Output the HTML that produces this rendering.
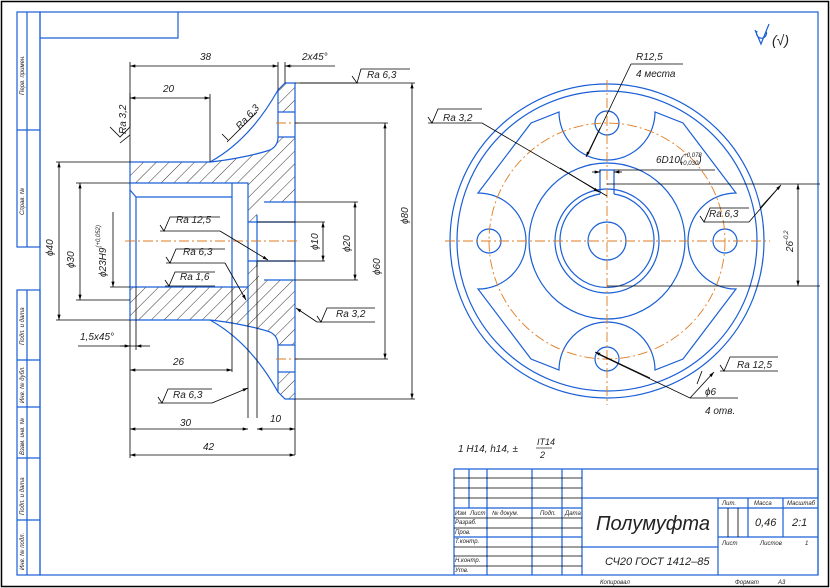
<!DOCTYPE html>
<html><head><meta charset="utf-8"><style>
html,body{margin:0;padding:0;background:#fff}
svg{display:block}
text{font-family:"Liberation Sans","Noto Sans CJK SC",sans-serif;font-style:italic;fill:#222}
.b{stroke:#1a5fd6;fill:none;stroke-width:1.2}
.k{stroke:#000;fill:none;stroke-width:0.8}
.o{stroke:#e07b20;fill:none;stroke-width:0.9;stroke-dasharray:10 3 2 3}
</style></head><body>
<svg width="830" height="588" viewBox="0 0 830 588" xmlns="http://www.w3.org/2000/svg">
<defs>
<pattern id="h" width="9" height="9" patternUnits="userSpaceOnUse" patternTransform="rotate(45)">
<line x1="0" y1="0" x2="0" y2="9" stroke="#000" stroke-width="0.8"/>
</pattern>
<marker id="a" viewBox="0 0 10 6" refX="10" refY="3" markerWidth="8" markerHeight="4" orient="auto-start-reverse"><path d="M0,0L10,3L0,6z" fill="#000"/></marker>
</defs>
<rect x="1.5" y="1.5" width="827" height="585" fill="none" stroke="#000" stroke-width="1.5"/>
<rect x="40" y="12" width="778" height="563" class="b"/>
<path class="b" d="M40,38H178V12"/>
<g class="b">
<rect x="17" y="12" width="23" height="235"/><line x1="27" y1="12" x2="27" y2="247"/><line x1="17" y1="130" x2="40" y2="130"/>
<rect x="17" y="290" width="23" height="285"/><line x1="27" y1="290" x2="27" y2="575"/>
<line x1="17" y1="360" x2="40" y2="360"/><line x1="17" y1="407" x2="40" y2="407"/><line x1="17" y1="458" x2="40" y2="458"/><line x1="17" y1="520" x2="40" y2="520"/>
</g>
<g font-size="6">
<text transform="translate(24,95) rotate(-90)">Перв. примен.</text>
<text transform="translate(24,215) rotate(-90)">Справ. №</text>
<text transform="translate(24,345) rotate(-90)">Подп. и дата</text>
<text transform="translate(24,403) rotate(-90)">Инв. № дубл.</text>
<text transform="translate(24,455) rotate(-90)">Взам. инв. №</text>
<text transform="translate(24,515) rotate(-90)">Подп. и дата</text>
<text transform="translate(24,570) rotate(-90)">Инв. № подл.</text>
</g>

<path fill="url(#h)" d="M130,162H210C230,160 255,155 270,150Q278,146 278,137H295V202H264Q257,205 257,215V222H248V183H130Z"/>
<path fill="url(#h)" d="M130,320H210C230,322 255,327 270,332Q278,336 278,345H295V280H264Q257,277 257,267V261H248V287H130Z"/>
<path fill="url(#h)" d="M285,83H295V112H278V90Z"/>
<path fill="url(#h)" d="M285,399H295V372H278V392Z"/>
<g class="b">
<path d="M130,162V320"/>
<path d="M130,162H210C230,160 255,155 270,150Q278,146 278,137V90L285,83H295V399H285L278,392V345Q278,336 270,332C255,327 230,322 210,320H130"/>
<path d="M210,162Q250,140 278,90M210,320Q250,342 278,392"/>
<path d="M130,183H248V320M232,183V287M136,197H232M130,287H248M136,197L130,190M136,197V287"/>
<path d="M257,222V261M257,215V267M248,222H295M248,261H295M264,202H295M264,280H295"/>
<path d="M278,112H295M278,137H295M278,345H295M278,372H295"/>
</g>
<line class="o" x1="125" y1="241" x2="300" y2="241"/>
<line class="o" x1="276" y1="123" x2="298" y2="123"/>
<line class="o" x1="276" y1="359" x2="298" y2="359"/>

<g class="k">
<line x1="130" y1="62" x2="130" y2="162"/>
<line x1="278" y1="62" x2="278" y2="90"/><line x1="285" y1="62" x2="285" y2="83"/>
<line x1="130" y1="66" x2="278" y2="66" marker-start="url(#a)" marker-end="url(#a)"/>
<line x1="285" y1="66" x2="335" y2="66"/><line x1="292" y1="66" x2="285" y2="66" marker-end="url(#a)"/>
<line x1="210" y1="94" x2="210" y2="162"/>
<line x1="130" y1="98" x2="210" y2="98" marker-start="url(#a)" marker-end="url(#a)"/>
<path d="M295,83H415M295,399H415M295,123H388M295,359H388M295,202H358M295,280H358M257,222H325M257,261H325"/>
<line x1="412" y1="83" x2="412" y2="399" marker-start="url(#a)" marker-end="url(#a)"/>
<line x1="385" y1="123" x2="385" y2="359" marker-start="url(#a)" marker-end="url(#a)"/>
<line x1="355" y1="202" x2="355" y2="280" marker-start="url(#a)" marker-end="url(#a)"/>
<line x1="323" y1="222" x2="323" y2="261" marker-start="url(#a)" marker-end="url(#a)"/>
<path d="M56,162H130M56,320H130M76,183H130M76,300H130M110,287H130"/>
<line x1="59" y1="162" x2="59" y2="320" marker-start="url(#a)" marker-end="url(#a)"/>
<line x1="80" y1="183" x2="80" y2="300" marker-start="url(#a)" marker-end="url(#a)"/>
<line x1="113" y1="212" x2="113" y2="287" marker-end="url(#a)"/>
<path d="M136,287V350M232,287V372M248,320V418M257,261V418M295,399V455M130,320V458"/>
<line x1="78" y1="346" x2="136" y2="346"/><line x1="120" y1="346" x2="130" y2="346" marker-end="url(#a)"/><line x1="150" y1="346" x2="136" y2="346" marker-end="url(#a)"/>
<line x1="130" y1="370" x2="232" y2="370" marker-start="url(#a)" marker-end="url(#a)"/>
<line x1="130" y1="429" x2="248" y2="429" marker-start="url(#a)" marker-end="url(#a)"/>
<line x1="257" y1="429" x2="295" y2="429" marker-start="url(#a)" marker-end="url(#a)"/>
<line x1="130" y1="455" x2="295" y2="455" marker-start="url(#a)" marker-end="url(#a)"/>
<!-- Ra leaders with check marks -->
<path d="M120,143l10,-8M110,127l10,10l10,-10V93"/>
<path d="M160,231H220"/><line x1="220" y1="231" x2="268" y2="260" marker-end="url(#a)"/>
<path d="M166,263H225"/><line x1="225" y1="263" x2="246" y2="300" marker-end="url(#a)"/>
<path d="M165,286H215"/>
<path d="M158,403H212"/><line x1="212" y1="403" x2="248" y2="388" marker-end="url(#a)"/>
<path d="M317,322H375"/><line x1="317" y1="322" x2="296" y2="308" marker-end="url(#a)"/>
<path d="M300,83H357"/>
<path d="M227,142l30,-30M228,140l-6,-6"/>
<path d="M160,225l4,6l6,-14H220"/><path d="M166,257l4,6l6,-14H225"/><path d="M165,280l4,6l6,-14H215"/>
<path d="M158,397l4,6l6,-14H212"/><path d="M317,316l4,6l6,-14H375"/>
<path d="M352,76l5,7l4,-14H410"/>
</g>
<g font-size="10">
<text x="200" y="60">38</text><text x="163" y="92">20</text><text x="302" y="60">2x45°</text>
<text x="367" y="78">Ra 6,3</text>
<text transform="translate(126,134) rotate(-90)">Ra 3,2</text>
<text transform="translate(240,130) rotate(-48)">Ra 6,3</text>
<text x="176" y="223">Ra 12,5</text><text x="183" y="255">Ra 6,3</text><text x="180" y="280">Ra 1,6</text>
<text x="336" y="317">Ra 3,2</text><text x="173" y="398">Ra 6,3</text>
<text x="80" y="340">1,5x45°</text>
<text x="173" y="365">26</text><text x="180" y="426">30</text><text x="270" y="422">10</text><text x="203" y="450">42</text>
<text transform="translate(53,256) rotate(-90)">ϕ40</text>
<text transform="translate(74,268) rotate(-90)">ϕ30</text>
<text transform="translate(106,277) rotate(-90)">ϕ23H9<tspan font-size="6" dy="-6">(+0,052)</tspan></text>
<text transform="translate(318,250) rotate(-90)">ϕ10</text>
<text transform="translate(350,252) rotate(-90)">ϕ20</text>
<text transform="translate(380,275) rotate(-90)">ϕ60</text>
<text transform="translate(408,224) rotate(-90)">ϕ80</text>
</g>

<g class="b">
<circle cx="607" cy="241" r="157"/><circle cx="607" cy="241" r="150"/>
<circle cx="607" cy="241" r="78"/><circle cx="607" cy="241" r="52"/><circle cx="607" cy="241" r="19"/>
<path d="M600,194A47,47 0 1,0 614,194"/>
<path d="M600,194V170H614V194"/>
<path d="M559,112A48,48 0 0,0 655,112L683,123L736,193A48,48 0 0,0 736,289L683,359L655,370A48,48 0 0,0 559,370L531,359L478,289A48,48 0 0,0 478,193L531,123Z"/>
<circle cx="607" cy="123" r="12"/><circle cx="607" cy="359" r="12"/><circle cx="489" cy="241" r="12"/><circle cx="725" cy="241" r="12"/>
</g>
<circle cx="607" cy="241" r="118" class="o"/>
<line class="o" x1="445" y1="241" x2="770" y2="241"/>
<line class="o" x1="607" y1="80" x2="607" y2="405"/>
<g class="k">
<path d="M631,64H683M631,64L588,154"/><line x1="600" y1="128" x2="586" y2="157" marker-end="url(#a)"/>
<path d="M428,123H482L607,196"/><line x1="560" y1="168" x2="599" y2="192" marker-end="url(#a)"/>
<path d="M428,117l4,6l6,-14H482"/>
<path d="M600,170V172M614,170H715M607,184H820M607,286H820"/>
<line x1="592" y1="172" x2="600" y2="172" marker-end="url(#a)"/><line x1="622" y1="172" x2="614" y2="172" marker-end="url(#a)"/>
<line x1="798" y1="184" x2="798" y2="286" marker-start="url(#a)" marker-end="url(#a)"/>
<path d="M700,216l4,6l6,-14H749M704,222H749L780,186"/><line x1="760" y1="208" x2="781" y2="185" marker-end="url(#a)"/>
<path d="M720,371H778M720,365l4,6l6,-14H778M697,384l5,-13M600,355L690,398H738"/>
<line x1="650" y1="378" x2="595" y2="352" marker-end="url(#a)"/>
<line x1="714" y1="372" x2="690" y2="398" marker-start="url(#a)"/>
</g>
<g font-size="10">
<text x="636" y="60">R12,5</text><text x="636" y="77">4 места</text>
<text x="443" y="121">Ra 3,2</text>
<text x="656" y="163">6D10(<tspan font-size="6" dy="-6">+0,078</tspan><tspan font-size="6" dx="-22" dy="8">+0,030</tspan><tspan dy="-2">)</tspan></text>
<text x="709" y="217">Ra 6,3</text>
<text transform="translate(793,252) rotate(-90)">26<tspan font-size="6" dy="-5">-0,2</tspan></text>
<text x="737" y="368">Ra 12,5</text>
<text x="705" y="395">ϕ6</text><text x="705" y="414">4 отв.</text>
</g>
<g class="b" stroke-width="1"><path d="M755,30l6,14l8,-20M757,31a5,5 0 1,0 9,0"/></g>
<text x="772" y="45" font-size="14">(√)</text>

<text x="458" y="452" font-size="10">1 H14, h14, ±</text>
<text x="537" y="445" font-size="9">IT14</text><line x1="536" y1="448" x2="552" y2="448" stroke="#000" stroke-width="0.6"/>
<text x="540" y="458" font-size="9">2</text>

<g class="b">
<path d="M454,469H818V575M454,469V575M469,469V508M487,469V575M532,469V575M562,469V575M582,469V575"/>
<path d="M582,498H818M582,547H718M718,498V575M718,508H818M718,537H818M748,498V537M783,498V537"/>
<path d="M454,508H582M454,537H582"/>
</g>
<g class="k">
<path d="M454,478H582M454,488H582M454,498H582M454,518H582M454,528H582M454,547H582M454,556H582M454,566H582"/>
<path d="M728,508V537M738,508V537"/>
</g>
<g font-size="6">
<text x="455" y="515">Изм</text><text x="470" y="515">Лист</text><text x="492" y="515">№ докум.</text><text x="540" y="515">Подп.</text><text x="565" y="515">Дата</text>
<text x="455" y="524">Разраб.</text><text x="455" y="534">Пров.</text><text x="455" y="543">Т.контр.</text>
<text x="455" y="562">Н.контр.</text><text x="455" y="572">Утв.</text>
<text x="722" y="505">Лит.</text><text x="754" y="505">Масса</text><text x="787" y="505">Масштаб</text>
<text x="722" y="545">Лист</text><text x="760" y="545">Листов</text><text x="805" y="545">1</text>
<text x="600" y="584">Копировал</text><text x="735" y="584">Формат</text><text x="778" y="584">А3</text>
</g>
<text x="596" y="530" font-size="20">Полумуфта</text>
<text x="605" y="565" font-size="11">СЧ20 ГОСТ 1412–85</text>
<text x="755" y="526" font-size="11">0,46</text><text x="792" y="526" font-size="11">2:1</text>
</svg>
</body></html>
